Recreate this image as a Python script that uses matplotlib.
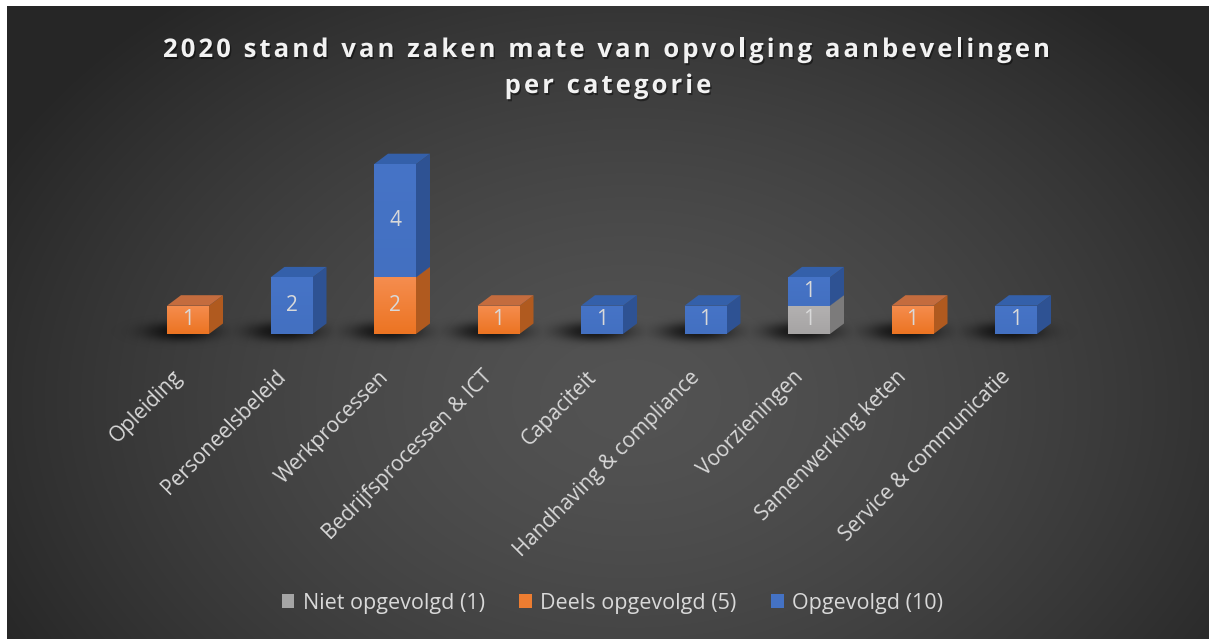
import numpy as np
import matplotlib
matplotlib.use('Agg')
import matplotlib.pyplot as plt
from matplotlib.patches import Polygon, Rectangle, Patch
from matplotlib import transforms, patheffects
from matplotlib.font_manager import FontProperties, findfont
from matplotlib.ft2font import FT2Font

# ---------------- data ----------------
categories = ["Opleiding", "Personeelsbeleid", "Werkprocessen", "Bedrijfsprocessen & ICT",
              "Capaciteit", "Handhaving & compliance", "Voorzieningen", "Samenwerking keten",
              "Service & communicatie"]
niet_opgevolgd = [0, 0, 0, 0, 0, 0, 1, 0, 0]
deels_opgevolgd = [1, 0, 2, 1, 0, 0, 0, 1, 0]
opgevolgd = [0, 2, 4, 0, 1, 1, 1, 0, 1]
legend_labels = ["Niet opgevolgd (1)", "Deels opgevolgd (5)", "Opgevolgd (10)"]
title_lines = ["2020 stand van zaken mate van opvolging aanbevelingen", "per categorie"]

# ---------------- styles ----------------
W, H, DPI = 1209, 639, 100
FONT = "Open Sans"
series = [niet_opgevolgd, deels_opgevolgd, opgevolgd]
front_top = ["#b3b1b1", "#f58d4f", "#4674c7"]
front_bot = ["#a6a4a4", "#ec7422", "#4370c1"]
side_col = ["#7c7b7b", "#b05a1f", "#2e5293"]
top_col = ["#8f8e8e", "#c46c3e", "#3460aa"]
legend_col = ["#a5a5a5", "#ed7d31", "#4472c4"]
txt_col = "#d9d9d9"

fig = plt.figure(figsize=(W / DPI, H / DPI), dpi=DPI, facecolor="white")

# ---------------- background (radial gradient) ----------------
bg = fig.add_axes([7 / W, 0, (W - 7) / W, (H - 6) / H])
bg.set_axis_off()
yy, xx = np.mgrid[6:H:1.0, 7:W:1.0]
r = np.sqrt(((xx - 630) / 720) ** 2 + ((yy - 400) / 520) ** 2)
t = np.clip(r, 0, 1) ** 1.5
c_edge, c_center = 0x26 / 255, 0x53 / 255
val = c_edge + (c_center - c_edge) * (1 - t)
img = np.dstack([val, val, val])
bg.imshow(img, extent=(7, W, H, 6), aspect="auto", interpolation="bilinear")
bg.set_xlim(7, W)
bg.set_ylim(H, 6)

# ---------------- bar axes ----------------
slot = 103.5
left_px = 188 - slot / 2
zero_px = 334
unit = 28.3
ymax = 7
ax = fig.add_axes([left_px / W, (H - zero_px) / H, 9 * slot / W, ymax * unit / H])
ax.set_xlim(-0.5, 8.5)
ax.set_ylim(0, ymax)
ax.set_axis_off()
ax.patch.set_alpha(0)

# shadow layer (computed from bar positions through the axes transform)
sh = fig.add_axes([0, 0, 1, 1], zorder=0.5)
sh.set_axis_off()
sh.patch.set_alpha(0)
fig.canvas.draw()
alpha = np.zeros((H, W))
YY, XX = np.mgrid[0:H, 0:W]
for i in range(len(categories)):
    px, py = ax.transData.transform((i, 0))
    py = H - py
    d = np.sqrt(((XX - (px - 8)) / 36.0) ** 2 + ((YY - (py - 3)) / 9.5) ** 2)
    alpha = np.maximum(alpha, 0.7 * np.exp(-d ** 2.5))
shadow = np.zeros((H, W, 4))
shadow[..., 3] = alpha
sh.imshow(shadow, extent=(0, W, H, 0), aspect="auto", interpolation="bilinear")
sh.set_xlim(0, W)
sh.set_ylim(H, 0)
ax.set_zorder(1)

w = 42 / slot
DX = 14 / slot
DY = 10.5 / unit
grad = np.linspace(1, 0, 64).reshape(-1, 1)
z = 2
for i in range(len(categories)):
    base = 0
    for s, vals in enumerate(series):
        v = vals[i]
        if v == 0:
            continue
        y0, y1 = base, base + v
        x0, x1 = i - w / 2, i + w / 2
        side = Polygon([(x1, y0), (x1 + DX, y0 + DY), (x1 + DX, y1 + DY), (x1, y1)],
                       closed=True, facecolor=side_col[s], edgecolor="none", zorder=z, clip_on=False)
        ax.add_patch(side)
        top = Polygon([(x0, y1), (x1, y1), (x1 + DX, y1 + DY), (x0 + DX, y1 + DY)],
                      closed=True, facecolor=top_col[s], edgecolor="none", zorder=z, clip_on=False)
        ax.add_patch(top)
        rect = Rectangle((x0, y0), w, v, facecolor="none", edgecolor="none", zorder=z + 0.1, clip_on=False)
        ax.add_patch(rect)
        c1 = np.array(matplotlib.colors.to_rgb(front_top[s]))
        c2 = np.array(matplotlib.colors.to_rgb(front_bot[s]))
        g = grad[..., None] * c1 + (1 - grad[..., None]) * c2
        im = ax.imshow(g, extent=(x0, x1, y0, y1), aspect="auto", zorder=z + 0.1,
                       interpolation="bilinear", origin="upper")
        im.set_clip_path(rect)
        ax.text(i, (y0 + y1) / 2, str(v), ha="center", va="center", color=txt_col,
                fontsize=15, family=FONT, zorder=z + 0.3)
        base = y1
        z += 1
ax.set_xlim(-0.5, 8.5)
ax.set_ylim(0, ymax)

# category labels
lab_tr = transforms.offset_copy(ax.transData, fig=fig, x=-9, y=-40, units="dots")
for i, cat in enumerate(categories):
    ax.text(i, 0, cat, rotation=45, ha="right", va="center", rotation_mode="anchor",
            transform=lab_tr, color=txt_col, fontsize=15, family=FONT, clip_on=False)

# ---------------- title with letter spacing ----------------
tsize = 18.5
fp = FontProperties(family=FONT, weight="bold", size=tsize)
ft = FT2Font(findfont(fp))
ft.set_size(tsize, DPI)


def advances(s):
    return [ft.load_char(ord(c)).linearHoriAdvance / 65536.0 for c in s]


adv1 = advances(title_lines[0])
target1 = 1050 - 163
track = (target1 - sum(adv1)) / (len(adv1) - 1)
for line, baseline, center in [(title_lines[0], 57, 606.5), (title_lines[1], 93, 608)]:
    adv = advances(line)
    total = sum(adv) + track * (len(adv) - 1)
    x = center - total / 2
    for ch, a in zip(line, adv):
        if ch != " ":
            fig.text(x / W, 1 - baseline / H, ch, ha="left", va="baseline", color="#f2f2f2",
                     fontproperties=fp, zorder=5,
                     path_effects=[patheffects.withSimplePatchShadow(offset=(1, -1.5),
                                                                       shadow_rgbFace="black",
                                                                       alpha=0.45)])
        x += a + track

# ---------------- legend ----------------
handles = [Patch(facecolor=c, edgecolor="none") for c in legend_col]
leg = fig.legend(handles, legend_labels, loc="center", bbox_to_anchor=(612.5 / W, (H - 603) / H),
                 ncol=3, frameon=False, handlelength=0.58, handleheight=0.58, handletextpad=0.4,
                 columnspacing=1.6, prop=FontProperties(family=FONT, size=15.5), labelcolor=txt_col)

fig.savefig("out.png", dpi=DPI, facecolor="white")
